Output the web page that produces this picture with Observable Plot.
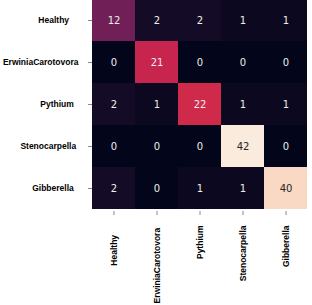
<!DOCTYPE html>
<html><head><meta charset="utf-8">
<script src="https://cdn.jsdelivr.net/npm/d3@7"></script>
<script src="https://cdn.jsdelivr.net/npm/@observablehq/plot@0.6"></script>
<style>body{margin:0;background:#fff}</style>
</head><body><div id="chart"></div>
<script>
// class labels (true = rows, predicted = columns)
const classes = ["Healthy", "ErwiniaCarotovora", "Pythium", "Stenocarpella", "Gibberella"];
// confusion-matrix rows
const healthy       = [12, 2, 2, 1, 1];
const erwinia       = [0, 21, 0, 0, 0];
const pythium       = [2, 1, 22, 1, 1];
const stenocarpella = [0, 0, 0, 42, 0];
const gibberella    = [2, 0, 1, 1, 40];
const rows = [healthy, erwinia, pythium, stenocarpella, gibberella];

// seaborn "rocket" colormap key colours
const rocket = ["#03051a", "#35193e", "#701f57", "#ad1759", "#e13342", "#f37651", "#f6b48f", "#faebdd"];
const vmax = 42;

// trailing spacing seen on tick labels in the reference
const yPad = {Healthy: 4, Pythium: 2, Stenocarpella: 1, Gibberella: 2};
const xPad = {Healthy: 4, ErwiniaCarotovora: 1};

const table = [];
rows.forEach((r, i) => r.forEach((v, j) => table.push({actual: classes[i], predicted: classes[j], value: v})));

const chart = Plot.plot({
  width: 312, height: 305,
  marginLeft: 92, marginRight: 5, marginTop: -3, marginBottom: 94,
  x: {domain: classes, padding: 0, axis: null},
  y: {domain: classes, padding: 0, axis: null},
  color: {type: "linear", domain: rocket.map((_, i) => i * vmax / (rocket.length - 1)), range: rocket},
  style: {fontFamily: "'Liberation Sans', Arial, sans-serif", background: "#fff"},
  marks: [
    Plot.cell(table, {x: "predicted", y: "actual", fill: "value", inset: 0}),
    Plot.text(table, {x: "predicted", y: "actual", text: d => String(d.value),
      fill: d => d.value > 30 ? "#262626" : "#eeeeee",
      fontFamily: "'DejaVu Sans', sans-serif", fontSize: 10}),
    Plot.axisY({tickSize: 4, tickPadding: 10, stroke: "#888", fill: "#000",
      fontWeight: "bold", fontSize: 8.5, label: null,
      tickFormat: d => d + "\u00a0".repeat(yPad[d] || 0)}),
    Plot.axisX({anchor: "bottom", tickSize: 4, tickPadding: 10, tickRotate: -90, stroke: "#888", fill: "#000",
      fontWeight: "bold", fontSize: 8.5, label: null,
      tickFormat: d => d + "\u00a0".repeat(xPad[d] || 0)})
  ]
});
document.getElementById("chart").appendChild(chart);
</script>
</body></html>
